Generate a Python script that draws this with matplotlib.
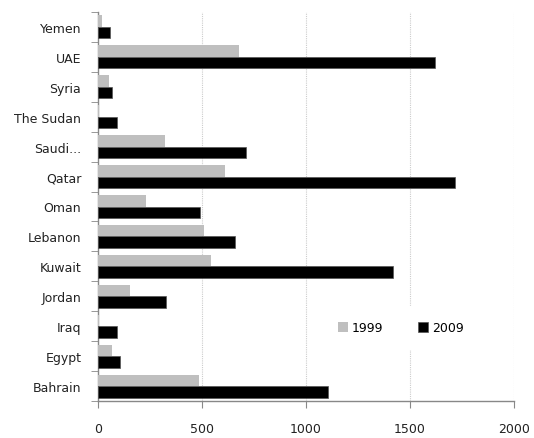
import matplotlib
matplotlib.use("Agg")
import matplotlib.pyplot as plt
import numpy as np
from matplotlib.ticker import FixedLocator

countries = ["Bahrain", "Egypt", "Iraq", "Jordan", "Kuwait", "Lebanon", "Oman",
             "Qatar", "Saudi...", "The Sudan", "Syria", "UAE", "Yemen"]
v1999 = [486, 66, 6, 156, 541, 509, 230, 611, 324, 6, 55, 677, 17]
v2009 = [1107, 107, 90, 329, 1416, 658, 491, 1716, 712, 90, 66, 1619, 60]
series_labels = ["1999", "2009"]
xticks = [0, 500, 1000, 1500, 2000]

plt.rcParams['font.family'] = ['DejaVu Sans']
fig = plt.figure(figsize=(5.34, 4.39), dpi=100)
ax = fig.add_axes([98/534, 1 - 402/439, 416/534, (402-13)/439])

y = np.arange(len(countries))
h = 0.385
ax.barh(y + h/2, v1999, height=h, color="#bfbfbf", label=series_labels[0], zorder=3)
ax.barh(y - h/2, v2009, height=h, color="#000000", edgecolor="#555555", linewidth=0.5,
        label=series_labels[1], zorder=3)

ax.set_xlim(0, 2000)
ax.set_ylim(-0.5, len(countries) - 0.5)
ax.set_xticks(xticks)
ax.set_xticklabels([str(t) for t in xticks], fontsize=9, color="#222222")
ax.set_yticks(y)
ax.set_yticklabels(countries, fontsize=9, color="#222222")
ax.tick_params(axis='y', length=0, pad=12)
ax.yaxis.set_minor_locator(FixedLocator(np.arange(-0.5, len(countries), 1.0)))
ax.tick_params(axis='y', which='minor', length=5, color="#888888", direction='out')
ax.tick_params(axis='x', length=5, color="#888888", direction='out', pad=10)

for s in ["top", "right"]:
    ax.spines[s].set_visible(False)
for s in ["left", "bottom"]:
    ax.spines[s].set_color("#888888")
    ax.spines[s].set_linewidth(1.0)

ax.xaxis.grid(True, linestyle=(0, (1, 1)), color="#cccccc", linewidth=0.8, zorder=0)
ax.set_axisbelow(True)

leg = ax.legend(loc='center', bbox_to_anchor=(0.728, 0.188), ncol=2, frameon=True,
                fontsize=9, handlelength=0.8, handleheight=0.8, handletextpad=0.3,
                columnspacing=2.8, borderpad=1.2, fancybox=False)
leg.get_frame().set_edgecolor("white")
leg.get_frame().set_facecolor("white")
leg.get_frame().set_alpha(1.0)
leg.set_zorder(5)

fig.savefig("out.png", dpi=100)
